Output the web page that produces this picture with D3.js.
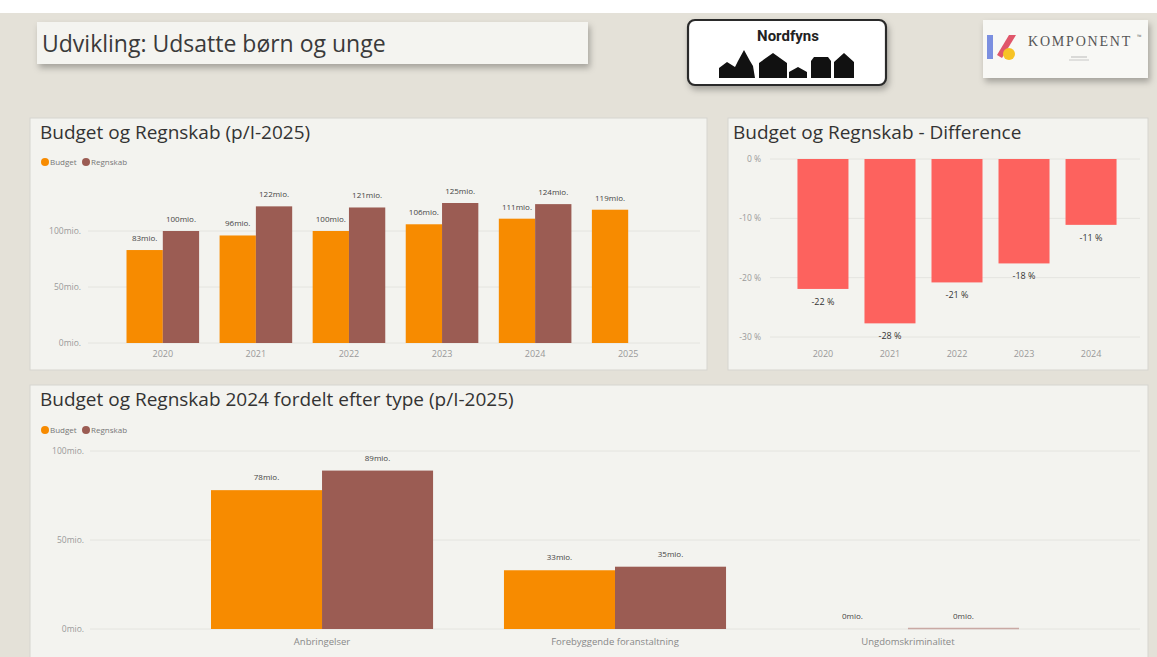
<!DOCTYPE html>
<html>
<head>
<meta charset="utf-8">
<script src="https://cdn.jsdelivr.net/npm/d3@7.9.0/dist/d3.min.js"></script>
<style>
  body { margin: 0; background: #ffffff; }
  svg { display: block; font-family: "Open Sans", "Noto Sans", sans-serif; }
</style>
</head>
<body>
<svg id="dash" width="1157" height="657"></svg>
<script>
// data
const years = ['2020', '2021', '2022', '2023', '2024', '2025'];
const budget = [83, 96, 100, 106, 111, 119];
const regnskab = [100, 122, 121, 125, 124, null];

const diffYears = ['2020', '2021', '2022', '2023', '2024'];
const diffPct = [-21.9, -27.7, -20.8, -17.6, -11.1];

const types = ['Anbringelser', 'Forebyggende foranstaltning', 'Ungdomskriminalitet'];
const budgetType = [78, 33, 0];
const regnskabType = [89, 35, 0];

const series = ['Budget', 'Regnskab'];
const colors = { Budget: '#f78b00', Regnskab: '#9b5c53' };
const red = '#fd625e';

const svg = d3.select('#dash');

// shadow filter for the header boxes
const defs = svg.append('defs');
const f = defs.append('filter').attr('id', 'shadow').attr('x', '-10%').attr('y', '-20%').attr('width', '130%').attr('height', '160%');
f.append('feDropShadow').attr('dx', 2).attr('dy', 4).attr('stdDeviation', 3).attr('flood-color', '#000').attr('flood-opacity', 0.28);

// page background
svg.append('rect').attr('x', 0).attr('y', 13).attr('width', 1157).attr('height', 644).attr('fill', '#e4e1d8');

// header title box
svg.append('rect').attr('x', 37).attr('y', 22).attr('width', 551).attr('height', 42)
  .attr('fill', '#f4f4f0').attr('filter', 'url(#shadow)');
svg.append('text').attr('x', 42).attr('y', 52).attr('font-size', 23).attr('fill', '#3a3a3a')
  .text('Udvikling: Udsatte børn og unge');

// Nordfyns logo
const nf = svg.append('g');
nf.append('rect').attr('x', 688).attr('y', 20).attr('width', 198).attr('height', 65).attr('rx', 7)
  .attr('fill', '#fff').attr('stroke', '#2a2a2a').attr('stroke-width', 2.2).attr('filter', 'url(#shadow)');
nf.append('text').attr('x', 788).attr('y', 41).attr('text-anchor', 'middle').attr('font-size', 15)
  .attr('font-weight', 'bold').attr('fill', '#222').attr('font-family', 'Roboto, sans-serif').text('Nordfyns');
nf.append('path').attr('fill', '#111').attr('d',
  'M719,78 L719,68 L727,62 L735,67 L738,61 L744,50 L750,61 L753,66 L755,78 Z ' +
  'M759,78 L759,63 L773,53 L787,63 L787,78 Z ' +
  'M789,78 L789,72 L798,67 L807,72 L807,78 Z ' +
  'M811,78 L811,61 L814,57 L828,57 L831,61 L831,78 Z ' +
  'M834,78 L834,62 L844,53 L854,62 L854,78 Z');

// Komponent logo
const kp = svg.append('g');
kp.append('rect').attr('x', 983).attr('y', 20).attr('width', 165).attr('height', 58)
  .attr('fill', '#f8f8f5').attr('filter', 'url(#shadow)');
kp.append('path').attr('d', 'M987,35 L993,35 L993,59 L987,59 Z').attr('fill', '#7b8fe0');
kp.append('path').attr('d', 'M1009,35 L1016,35 L1002,58 L997,55 Z').attr('fill', '#e0566a');
kp.append('circle').attr('cx', 1009).attr('cy', 54).attr('r', 6).attr('fill', '#f7c325');
kp.append('text').attr('x', 1028).attr('y', 46).attr('font-size', 14).attr('fill', '#555')
  .attr('font-family', '"Liberation Serif", serif').attr('letter-spacing', 1.8).text('KOMPONENT');
kp.append('text').attr('x', 1137).attr('y', 39).attr('font-size', 6).attr('fill', '#777').text('™');
kp.append('line').attr('x1', 1071).attr('x2', 1087).attr('y1', 57).attr('y2', 57).attr('stroke', '#aaa').attr('stroke-width', 0.8);
kp.append('line').attr('x1', 1069).attr('x2', 1089).attr('y1', 60).attr('y2', 60).attr('stroke', '#bbb').attr('stroke-width', 0.8);

// panel helper
function panel(x, y, w, h, title, tx) {
  const g = svg.append('g');
  g.append('rect').attr('x', x).attr('y', y).attr('width', w).attr('height', h)
    .attr('fill', '#f3f3ef').attr('stroke', '#d6d5cf').attr('stroke-width', 1);
  g.append('text').attr('x', tx).attr('y', y + 21).attr('font-size', 19).attr('fill', '#333').text(title);
  return g;
}

function legend(g, x, y) {
  const items = g.selectAll('.leg').data(series).join('g').attr('class', 'leg');
  const xs = [x, x + 41];
  items.append('circle').attr('cx', (d, i) => xs[i]).attr('cy', y).attr('r', 4).attr('fill', d => colors[d]);
  items.append('text').attr('x', (d, i) => xs[i] + 5).attr('y', y + 3).attr('font-size', 8)
    .attr('fill', '#777').text(d => d);
}

function gridY(g, y, ticks, x0, x1, labelX, fmt) {
  g.selectAll(null).data(ticks).join('line')
    .attr('x1', x0).attr('x2', x1).attr('y1', d => y(d)).attr('y2', d => y(d))
    .attr('stroke', '#e4e4df').attr('stroke-width', 1);
  g.selectAll(null).data(ticks).join('text')
    .attr('x', labelX).attr('y', d => y(d) + 3).attr('text-anchor', 'end')
    .attr('font-size', 8.5).attr('fill', '#9a9a9a').text(fmt);
}

// ---- Panel 1: Budget og Regnskab (p/I-2025)
{
  const g = panel(30, 118, 677, 252, 'Budget og Regnskab (p/I-2025)', 40);
  legend(g, 45, 162);
  const y = d3.scaleLinear().domain([0, 100]).range([343, 231]);
  gridY(g, y, [0, 50, 100], 88, 700, 81, d => d + 'mio.');
  const x0 = d3.scaleBand().domain(years).range([89, 702]).paddingInner(0.22).paddingOuter(0.403);
  const x1 = d3.scaleBand().domain(series).range([0, x0.bandwidth()]);
  const rows = years.map((yr, i) => ({ yr, vals: [
    { s: 'Budget', v: budget[i] }, { s: 'Regnskab', v: regnskab[i] }
  ].filter(d => d.v != null) }));
  const grp = g.selectAll('.grp').data(rows).join('g').attr('transform', d => `translate(${x0(d.yr)},0)`);
  grp.selectAll('rect').data(d => d.vals).join('rect')
    .attr('x', d => x1(d.s)).attr('width', x1.bandwidth())
    .attr('y', d => y(d.v)).attr('height', d => y(0) - y(d.v)).attr('fill', d => colors[d.s]);
  grp.selectAll('text').data(d => d.vals).join('text')
    .attr('x', d => x1(d.s) + x1.bandwidth() / 2).attr('y', d => y(d.v) - 9)
    .attr('text-anchor', 'middle').attr('font-size', 8).attr('fill', '#444').text(d => d.v + 'mio.');
  g.selectAll('.xl').data(years).join('text')
    .attr('x', d => x0(d) + x0.bandwidth() / 2).attr('y', 357).attr('text-anchor', 'middle')
    .attr('font-size', 9).attr('fill', '#999').text(d => d);
}

// ---- Panel 2: Difference
{
  const g = panel(728, 118, 420, 252, 'Budget og Regnskab - Difference', 733);
  const y = d3.scaleLinear().domain([0, -30]).range([159, 337]);
  gridY(g, y, [0, -10, -20, -30], 770, 1140, 761, d => d + ' %');
  const x = d3.scaleBand().domain(diffYears).range([772, 1142]).paddingInner(0.239).paddingOuter(0.38);
  g.selectAll('.bar').data(diffYears).join('rect')
    .attr('x', d => x(d)).attr('width', x.bandwidth())
    .attr('y', y(0)).attr('height', (d, i) => y(diffPct[i]) - y(0)).attr('fill', red);
  g.selectAll('.vl').data(diffYears).join('text')
    .attr('x', d => x(d) + x.bandwidth() / 2).attr('y', (d, i) => y(diffPct[i]) + 16)
    .attr('text-anchor', 'middle').attr('font-size', 9).attr('fill', '#333')
    .text((d, i) => Math.round(diffPct[i]) + ' %');
  g.selectAll('.xl').data(diffYears).join('text')
    .attr('x', d => x(d) + x.bandwidth() / 2).attr('y', 357).attr('text-anchor', 'middle')
    .attr('font-size', 9).attr('fill', '#999').text(d => d);
}

// ---- Panel 3: fordelt efter type
{
  const g = panel(30, 385, 1118, 275, 'Budget og Regnskab 2024 fordelt efter type (p/I-2025)', 40);
  legend(g, 45, 430);
  const y = d3.scaleLinear().domain([0, 100]).range([629, 451]);
  gridY(g, y, [0, 50, 100], 90, 1140, 84, d => d + 'mio.');
  const x0 = d3.scaleBand().domain(types).range([90, 1140]).paddingInner(0.242).paddingOuter(0.413);
  const x1 = d3.scaleBand().domain(series).range([0, x0.bandwidth()]);
  const rows = types.map((t, i) => ({ t, vals: [
    { s: 'Budget', v: budgetType[i] }, { s: 'Regnskab', v: regnskabType[i] }
  ] }));
  const grp = g.selectAll('.grp').data(rows).join('g').attr('transform', d => `translate(${x0(d.t)},0)`);
  grp.selectAll('rect').data(d => d.vals).join('rect')
    .attr('x', d => x1(d.s)).attr('width', x1.bandwidth())
    .attr('y', d => y(d.v)).attr('height', d => y(0) - y(d.v)).attr('fill', d => colors[d.s]);
  // zero-height regnskab bar still shows a faint line
  grp.selectAll('.zero').data(d => d.vals.filter(v => v.v === 0 && v.s === 'Regnskab')).join('line')
    .attr('x1', d => x1(d.s)).attr('x2', d => x1(d.s) + x1.bandwidth())
    .attr('y1', y(0) - 0.5).attr('y2', y(0) - 0.5).attr('stroke', '#c9a9a4').attr('stroke-width', 1.5);
  grp.selectAll('text').data(d => d.vals).join('text')
    .attr('x', d => x1(d.s) + x1.bandwidth() / 2).attr('y', d => y(d.v) - 10)
    .attr('text-anchor', 'middle').attr('font-size', 8).attr('fill', '#444').text(d => d.v + 'mio.');
  g.selectAll('.xl').data(types).join('text')
    .attr('x', d => x0(d) + x0.bandwidth() / 2).attr('y', 645).attr('text-anchor', 'middle')
    .attr('font-size', 9.5).attr('fill', '#888').text(d => d);
}
</script>
</body>
</html>
